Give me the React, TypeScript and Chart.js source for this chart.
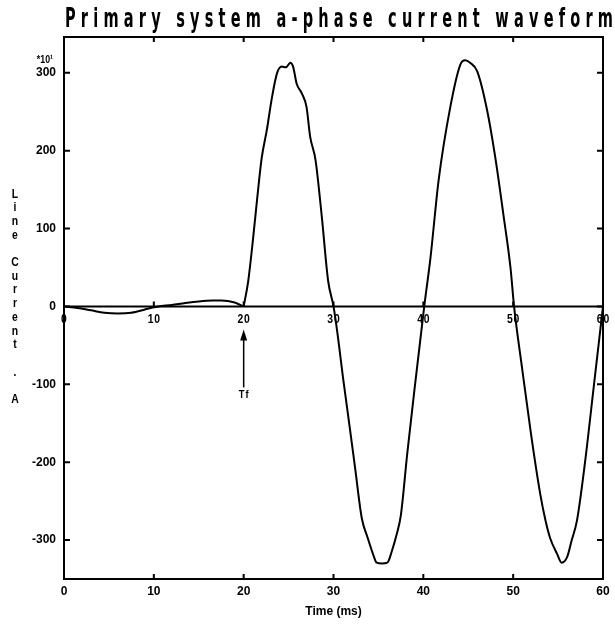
import React, { useEffect, useRef } from "react";
import { Chart, registerables } from "chart.js";

Chart.register(...registerables);

const TIME_MS = [
  0, 1.5, 3, 4.5, 6, 7.5, 9, 10, 10.5, 12, 13.5, 15, 16.5, 17.5, 19, 20,
  20.5, 21, 21.5, 22, 22.6, 23.1, 23.7, 24.25, 24.7, 25.2, 25.5, 25.9, 26.5, 27.0, 27.4, 28.0, 28.7, 29.4, 30.0,
  30.4, 31.1, 31.85, 32.4, 33.15, 33.8, 34.4, 34.8, 35.4, 36.0, 36.5, 37.05, 37.5, 38.2, 39.0, 40.1,
  40.8, 41.7, 43.0, 44.1, 44.65, 45.2, 46.0, 47.1, 48.0, 48.9, 49.7, 50.1,
  51, 52, 53, 53.6, 54.1, 54.9, 55.4, 56.0, 56.5, 57.1, 58, 59, 60,
];

const LINE_CURRENT = [
  0, -2, -5, -8, -9, -8, -4, -1, 0, 2, 4.5, 6.5, 7.5, 7.5, 5, 0,
  32, 82, 138, 190, 228, 265, 299, 308, 307, 313, 308, 286, 273, 256, 218, 188, 115, 33, 0,
  -31, -95, -159, -207, -272, -297, -318, -329, -330, -329, -314, -292, -268, -190, -108, 0,
  63, 162, 256, 310, 316, 313, 302, 252, 192, 119, 50, 0,
  -80, -165, -240, -275, -297, -318, -329, -322, -301, -275, -200, -100, 0,
];

const X_TICKS = [0, 10, 20, 30, 40, 50, 60];
const Y_TICKS = [-300, -200, -100, 0, 100, 200, 300];

const TITLE = "Primary system a-phase current waveform";
const Y_LABEL = "Line Current . A";
const X_LABEL = "Time (ms)";
const Y_MULTIPLIER = "*10¹";
const FAULT_TIME = 20;
const FAULT_LABEL = "Tf";

const FONT = "'Liberation Sans', Arial, sans-serif";
const WIDE_FONT = "'DejaVu Sans', 'Liberation Sans', sans-serif";

// draw horizontally condensed text
function narrowText(
  ctx: CanvasRenderingContext2D,
  text: string,
  x: number,
  y: number,
  font: string,
  squeeze: number,
  align: "left" | "center" | "right",
  baseline: CanvasTextBaseline,
  spacing = 0
) {
  ctx.save();
  ctx.font = font;
  (ctx as any).letterSpacing = `${spacing}px`;
  ctx.textBaseline = baseline;
  ctx.textAlign = "left";
  const w = ctx.measureText(text).width - spacing;
  let sx = x;
  if (align === "center") sx = x - (w * squeeze) / 2;
  if (align === "right") sx = x - w * squeeze;
  ctx.translate(sx, y);
  ctx.scale(squeeze, 1);
  ctx.fillText(text, 0, 0);
  ctx.restore();
}

const decorPlugin = {
  id: "decor",
  afterDraw(chart: any) {
    const { ctx, chartArea: a, scales } = chart;
    const x = scales.x;
    const y = scales.y;
    ctx.save();
    ctx.strokeStyle = "#000";
    ctx.fillStyle = "#000";
    ctx.lineWidth = 2;

    // frame
    ctx.strokeRect(a.left, a.top, a.right - a.left, a.bottom - a.top);

    // inward ticks on frame
    ctx.beginPath();
    X_TICKS.forEach((v) => {
      if (v === X_TICKS[0] || v === X_TICKS[X_TICKS.length - 1]) return;
      const px = x.getPixelForValue(v);
      ctx.moveTo(px, a.bottom);
      ctx.lineTo(px, a.bottom - 5);
      ctx.moveTo(px, a.top);
      ctx.lineTo(px, a.top + 5);
    });
    Y_TICKS.forEach((v) => {
      const py = y.getPixelForValue(v);
      ctx.moveTo(a.left, py);
      ctx.lineTo(a.left + 6, py);
      ctx.moveTo(a.right, py);
      ctx.lineTo(a.right - 6, py);
    });
    ctx.stroke();

    // zero line with ticks and labels
    const y0 = y.getPixelForValue(0);
    ctx.beginPath();
    ctx.moveTo(a.left, y0);
    ctx.lineTo(a.right, y0);
    X_TICKS.forEach((v) => {
      const px = x.getPixelForValue(v);
      ctx.moveTo(px, y0);
      ctx.lineTo(px, y0 - 5);
    });
    ctx.stroke();

    X_TICKS.forEach((v) => {
      const px = x.getPixelForValue(v);
      narrowText(ctx, String(v), px, y0 + 6, `bold 13px ${FONT}`, 0.8, "center", "top", 1);
    });

    // fault arrow
    const fx = x.getPixelForValue(FAULT_TIME);
    ctx.lineWidth = 1.5;
    ctx.beginPath();
    ctx.moveTo(fx, y0 + 30);
    ctx.lineTo(fx, y0 + 81);
    ctx.stroke();
    ctx.beginPath();
    ctx.moveTo(fx, y0 + 23);
    ctx.lineTo(fx - 3.5, y0 + 34);
    ctx.lineTo(fx + 3.5, y0 + 34);
    ctx.closePath();
    ctx.fill();
    narrowText(ctx, FAULT_LABEL, fx, y0 + 83, `bold 11px ${FONT}`, 0.85, "center", "top", 1);

    // multiplier
    narrowText(ctx, Y_MULTIPLIER, a.left - 11, y.getPixelForValue(300) - 10, `bold 11px ${FONT}`, 0.8, "right", "alphabetic");

    // vertical y label
    Array.from(Y_LABEL).forEach((c, i) => {
      narrowText(ctx, c, 15, 194 + i * 13.7, `bold 13px ${FONT}`, 0.8, "center", "middle");
    });

    // title: condensed, letter-spaced
    const tFont = `bold 26px ${WIDE_FONT}`;
    const squeeze = 0.56;
    ctx.font = tFont;
    (ctx as any).letterSpacing = "0px";
    const w0 = ctx.measureText(TITLE).width;
    const target = 548 / squeeze;
    const sp = Math.max(0, (target - w0) / (TITLE.length - 1));
    narrowText(ctx, TITLE, 65, 27, tFont, squeeze, "left", "alphabetic", sp);

    ctx.restore();
  },
};

export default function App() {
  const ref = useRef<HTMLCanvasElement | null>(null);

  useEffect(() => {
    if (!ref.current) return;
    const tickFont = { family: FONT, size: 12, weight: "bold" as const };
    const points = TIME_MS.map((t, i) => ({ x: t, y: LINE_CURRENT[i] }));
    const preFault = points.filter((p) => p.x <= FAULT_TIME);
    const postFault = points.filter((p) => p.x >= FAULT_TIME);
    const lineStyle = {
      borderColor: "#000",
      borderWidth: 2,
      pointRadius: 0,
      fill: false,
      cubicInterpolationMode: "monotone",
    };
    const chart = new Chart(ref.current, {
      type: "line",
      data: {
        datasets: [
          { data: preFault, ...lineStyle },
          { data: postFault, ...lineStyle },
        ],
      },
      options: {
        animation: false,
        responsive: false,
        layout: { padding: { top: 37, right: 12, left: 0, bottom: 0 } },
        plugins: {
          legend: { display: false },
          tooltip: { enabled: false },
          title: { display: false },
        },
        scales: {
          x: {
            type: "linear",
            min: 0,
            max: 60,
            afterBuildTicks: (s: any) => {
              s.ticks = X_TICKS.map((value) => ({ value }));
            },
            ticks: { font: tickFont, color: "#000", padding: 5, maxRotation: 0 },
            grid: { display: false, drawTicks: false },
            border: { display: false },
            title: {
              display: true,
              text: X_LABEL,
              color: "#000",
              font: { family: FONT, size: 12, weight: "bold" },
              padding: { top: 0, bottom: 12 },
            },
            afterFit: (s: any) => {
              s.height = 52;
            },
          },
          y: {
            type: "linear",
            min: -350,
            max: 346,
            afterBuildTicks: (s: any) => {
              s.ticks = Y_TICKS.map((value) => ({ value }));
            },
            ticks: { font: tickFont, color: "#000", padding: 8 },
            grid: { display: false, drawTicks: false },
            border: { display: false },
            afterFit: (s: any) => {
              s.width = 64;
            },
          },
        },
      },
      plugins: [decorPlugin],
    } as any);
    return () => chart.destroy();
  }, []);

  return (
    <div
      style={{
        position: "fixed",
        left: 0,
        top: 0,
        width: 615,
        height: 631,
        background: "#fff",
      }}
    >
      <canvas ref={ref} width={615} height={631} style={{ display: "block" }} />
    </div>
  );
}
